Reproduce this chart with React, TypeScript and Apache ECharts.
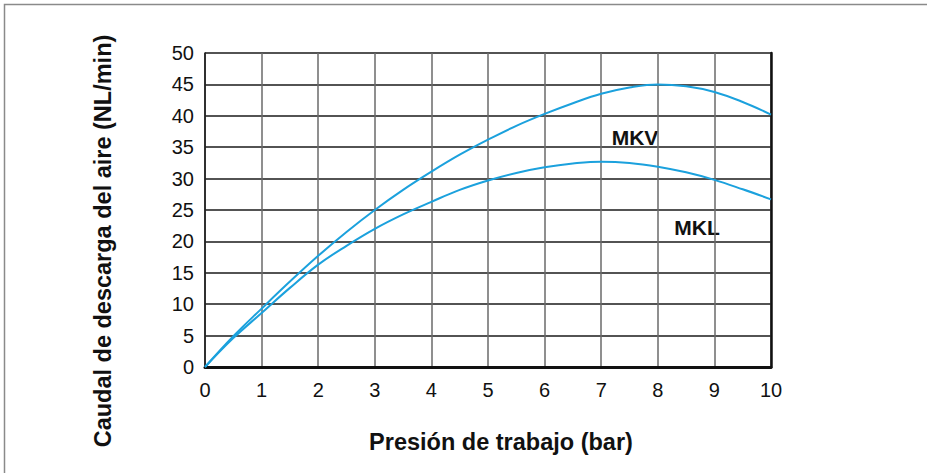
import React, { useEffect, useRef } from "react";
import * as echarts from "echarts";

const pressure = [0, 0.5, 1, 1.5, 2, 2.5, 3, 3.5, 4, 4.5, 5, 5.5, 6, 6.5, 7, 7.5, 8, 8.5, 9, 9.5, 10];
const mkv = [0, 4.9, 9.3, 13.6, 17.7, 21.5, 25.0, 28.2, 31.1, 33.8, 36.2, 38.4, 40.3, 42.0, 43.5, 44.5, 45.0, 44.7, 43.8, 42.2, 40.2];
const mkl = [0, 4.6, 8.6, 12.6, 16.3, 19.3, 22.0, 24.3, 26.3, 28.2, 29.7, 30.9, 31.8, 32.4, 32.7, 32.5, 31.9, 31.0, 29.8, 28.3, 26.7];
const xTicks = [0, 1, 2, 3, 4, 5, 6, 7, 8, 9, 10];
const yTicks = [0, 5, 10, 15, 20, 25, 30, 35, 40, 45, 50];

export default function App() {
  const ref = useRef<HTMLDivElement>(null);
  useEffect(() => {
    if (!ref.current) return;
    const chart = echarts.init(ref.current, null, { renderer: "svg" });
    const font = "'Liberation Sans', Arial, sans-serif";
    const color = "#1ba1dd";
    chart.setOption({
      animation: false,
      backgroundColor: "#ffffff",
      grid: { left: 205, right: 156, top: 53, bottom: 106 },
      xAxis: {
        type: "value",
        min: xTicks[0],
        max: xTicks[xTicks.length - 1],
        interval: 1,
        axisLine: { show: true, onZero: false, lineStyle: { color: "#111", width: 3 } },
        axisTick: { show: false },
        axisLabel: { color: "#111", fontSize: 20, fontFamily: font, margin: 13 },
        splitLine: { show: true, lineStyle: { color: "#6a6a6a", width: 1.5 } },
      },
      yAxis: [
        {
          type: "value",
          min: yTicks[0],
          max: yTicks[yTicks.length - 1],
          interval: 5,
          axisLine: { show: true, lineStyle: { color: "#111", width: 1.5 } },
          axisTick: { show: false },
          axisLabel: { color: "#111", fontSize: 20, fontFamily: font, margin: 11 },
          splitLine: { show: true, lineStyle: { color: "#1a1a1a", width: 1.5 } },
        },
        {
          type: "value",
          position: "right",
          min: 0,
          max: 50,
          interval: 5,
          axisLine: { show: true, lineStyle: { color: "#111", width: 2.5 } },
          axisTick: { show: false },
          axisLabel: { show: false },
          splitLine: { show: false },
        },
      ],
      series: [
        {
          name: "MKV",
          type: "line",
          smooth: 0.4,
          symbol: "none",
          lineStyle: { color, width: 2 },
          data: pressure.map((p, i) => [p, mkv[i]]),
          z: 5,
        },
        {
          name: "MKL",
          type: "line",
          smooth: 0.4,
          symbol: "none",
          lineStyle: { color, width: 2 },
          data: pressure.map((p, i) => [p, mkl[i]]),
          z: 5,
        },
      ],
      graphic: [
        {
          type: "rect",
          shape: { x: 4.5, y: 4.5, width: 1000, height: 1000 },
          style: { fill: "none", stroke: "#8a8a8a", lineWidth: 1.5 },
          silent: true,
        },
        {
          type: "text",
          x: 103,
          y: 241,
          rotation: Math.PI / 2,
          style: {
            text: "Caudal de descarga del aire (NL/min)",
            fontSize: 23.5,
            fontWeight: "bold",
            fontFamily: font,
            fill: "#111",
            align: "center",
            verticalAlign: "middle",
          },
        },
        {
          type: "text",
          x: 501,
          y: 442,
          style: {
            text: "Presión de trabajo (bar)",
            fontSize: 23.5,
            fontWeight: "bold",
            fontFamily: font,
            fill: "#111",
            align: "center",
            verticalAlign: "middle",
          },
        },
        {
          type: "text",
          x: 635,
          y: 137,
          style: {
            text: "MKV",
            fontSize: 21,
            fontWeight: "bold",
            fontFamily: font,
            fill: "#111",
            align: "center",
            verticalAlign: "middle",
          },
        },
        {
          type: "text",
          x: 697,
          y: 227,
          style: {
            text: "MKL",
            fontSize: 21,
            fontWeight: "bold",
            fontFamily: font,
            fill: "#111",
            align: "center",
            verticalAlign: "middle",
          },
        },
      ],
    });
    return () => chart.dispose();
  }, []);
  return <div ref={ref} style={{ position: "fixed", left: 0, top: 0, width: 927, height: 473 }} />;
}
